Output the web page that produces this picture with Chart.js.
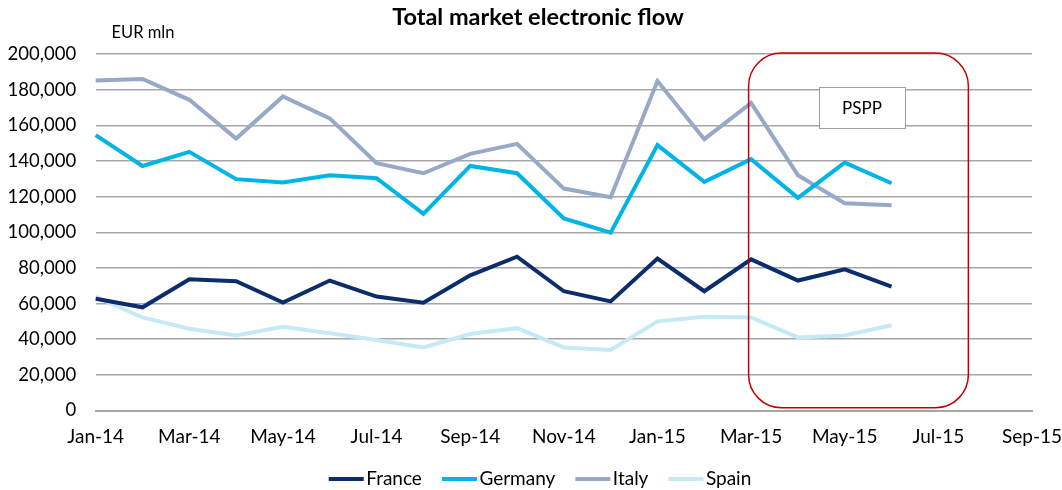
<!DOCTYPE html>
<html>
<head>
<meta charset="utf-8">
<script src="https://cdn.jsdelivr.net/npm/chart.js@4"></script>
<style>
  body { margin: 0; background: #fff; }
  #wrap { width: 1062px; height: 490px; }
</style>
</head>
<body>
<div id="wrap"><canvas id="myChart"></canvas></div>
<script>
// Meses (Jul-15 a Sep-15 sin datos, solo eje)
var meses = ['Jan-14','Feb-14','Mar-14','Apr-14','May-14','Jun-14','Jul-14','Aug-14','Sep-14','Oct-14','Nov-14','Dec-14',
             'Jan-15','Feb-15','Mar-15','Apr-15','May-15','Jun-15','Jul-15','Aug-15','Sep-15'];

var france  = [62700, 57900, 73600, 72500, 60500, 72900, 63900, 60500, 75800, 86300, 66900, 61200, 85200, 66900, 84800, 72900, 79200, 69500];
var germany = [154500, 137200, 145100, 129800, 127900, 132000, 130300, 110300, 137200, 133100, 107700, 99800, 148900, 128300, 141000, 119300, 139100, 127500];
var italy   = [185200, 186000, 174300, 152600, 176200, 163900, 138800, 133100, 144000, 149600, 124500, 119700, 184800, 152200, 172500, 132000, 116300, 115200];
var spain   = [63900, 52200, 45900, 42100, 47000, 43300, 39500, 35400, 42900, 46200, 35400, 33900, 50000, 52600, 52200, 41000, 42100, 47800];

var fuente = 'Lato, "Open Sans", sans-serif';

// Plugin para el título, la unidad, el recuadro PSPP y la leyenda
var anotaciones = {
  id: 'anotaciones',
  afterDraw: function(chart) {
    var c = chart.ctx;
    var x = chart.scales.x, y = chart.scales.y;
    c.save();
    c.fillStyle = '#000';
    c.font = 'bold 23.5px ' + fuente;
    c.textAlign = 'center';
    c.textBaseline = 'middle';
    c.fillText('Total market electronic flow', 538, 17);
    c.font = '16.5px ' + fuente;
    c.textAlign = 'left';
    c.fillText('EUR mln', 111.5, 33);

    // recuadro rojo
    var x0 = x.getPixelForValue(14) - 2.5, x1 = x.getPixelForValue(18) + 30;
    var y0 = y.getPixelForValue(200000) - 1, y1 = y.getPixelForValue(0) - 2.7;
    c.strokeStyle = '#c00000';
    c.lineWidth = 1.5;
    c.beginPath();
    c.roundRect(x0, y0, x1 - x0, y1 - y0, 33);
    c.stroke();

    // etiqueta PSPP
    c.fillStyle = '#fff';
    c.fillRect(819, 87, 87, 42);
    c.strokeStyle = '#a0a0a0';
    c.lineWidth = 1;
    c.strokeRect(819.5, 87.5, 86, 41);
    c.fillStyle = '#000';
    c.font = '17px ' + fuente;
    c.textAlign = 'center';
    c.fillText('PSPP', 862, 108.5);

    // leyenda
    c.font = '19px ' + fuente;
    c.textAlign = 'left';
    var ds = chart.data.datasets;
    var total = 0;
    for (var i = 0; i < ds.length; i++) {
      total += 37.5 + c.measureText(ds[i].label).width + (i < ds.length - 1 ? 20 : 0);
    }
    var lx = 540 - total / 2, ly = 479;
    for (var j = 0; j < ds.length; j++) {
      c.fillStyle = ds[j].borderColor;
      c.fillRect(lx, ly - 2, 35, 4);
      c.fillStyle = '#000';
      c.fillText(ds[j].label, lx + 37.5, ly);
      lx += 37.5 + c.measureText(ds[j].label).width + 20;
    }
    c.restore();
  }
};

function serie(nombre, datos, color) {
  return {
    label: nombre,
    data: datos,
    borderColor: color,
    backgroundColor: color,
    borderWidth: 4,
    pointRadius: 0,
    tension: 0,
    fill: false
  };
}

var ctx = document.getElementById('myChart').getContext('2d');
var myChart = new Chart(ctx, {
  type: 'line',
  data: {
    labels: meses,
    datasets: [
      serie('France', france, '#0b2d6b'),
      serie('Germany', germany, '#00b4e6'),
      serie('Italy', italy, '#97a9c7'),
      serie('Spain', spain, '#c6e9f6')
    ]
  },
  options: {
    responsive: true,
    maintainAspectRatio: false,
    animation: false,
    layout: { padding: { top: 54, right: 30, left: 0, bottom: 42.5 } },
    plugins: {
      title: { display: false },
      tooltip: { enabled: false },
      legend: { display: false }
    },
    scales: {
      x: {
        offset: false,
        afterFit: function(s) { s.height = 37; s.paddingLeft = 0; s.paddingRight = 0; },
        grid: { display: false, drawTicks: false },
        border: { display: true, color: '#a6a6a6', width: 2 },
        ticks: {
          color: '#000',
          font: { family: fuente, size: 19 },
          padding: 15,
          maxRotation: 0,
          autoSkip: false,
          callback: function(v, i) { return i % 2 === 0 ? meses[i] : ''; }
        }
      },
      y: {
        min: 0,
        max: 200000,
        afterFit: function(s) { s.width = 95.7; },
        grid: { color: '#a6a6a6', lineWidth: 1.5, drawTicks: false },
        border: { display: false },
        ticks: {
          stepSize: 20000,
          color: '#000',
          font: { family: fuente, size: 18.5 },
          padding: 19.5,
          callback: function(v) { return v.toLocaleString('en-US'); }
        }
      }
    }
  },
  plugins: [anotaciones]
});
</script>
</body>
</html>
